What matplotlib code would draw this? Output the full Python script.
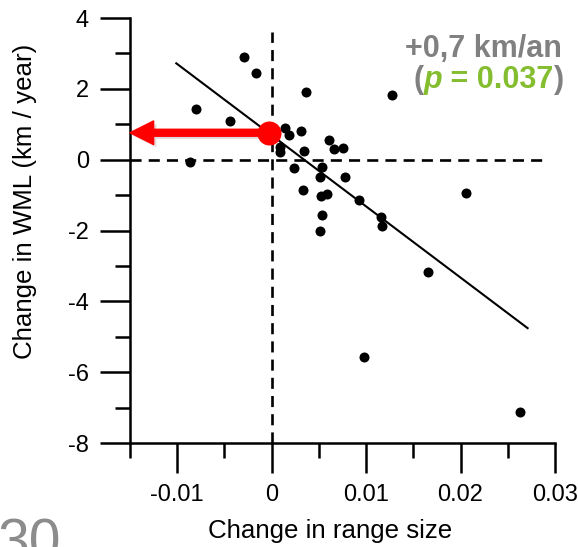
import matplotlib
matplotlib.use("Agg")
import matplotlib.pyplot as plt
import numpy as np
from matplotlib.patches import FancyArrowPatch, ArrowStyle
from matplotlib.ticker import FixedLocator, FixedFormatter
import matplotlib.patheffects as pe

plt.rcParams['font.family'] = ['Liberation Sans', 'DejaVu Sans']
plt.rcParams['axes.unicode_minus'] = False

# ---- data ----
range_change = [-0.0029, -0.0017, -0.0080, -0.0044, -0.0086,
                0.0036, 0.0127, 0.0014, 0.0018, 0.0031, 0.0009, 0.0009,
                0.0034, 0.0061, 0.0066, 0.0076, 0.0024, 0.0053, 0.0051,
                0.0078, 0.0033, 0.0052, 0.0059, 0.0093, 0.0053, 0.0116,
                0.0117, 0.0051, 0.0206, 0.0166, 0.0098, 0.0263]
wml_change = [2.90, 2.46, 1.42, 1.09, -0.07,
              1.91, 1.84, 0.90, 0.70, 0.81, 0.37, 0.23,
              0.25, 0.55, 0.30, 0.33, -0.23, -0.21, -0.48,
              -0.49, -0.86, -1.03, -0.98, -1.15, -1.55, -1.63,
              -1.87, -2.02, -0.94, -3.17, -5.56, -7.12]
fit_intercept = 0.69
fit_slope = -201.0
fit_x = [-0.0101, 0.0271]
highlight_x, highlight_y = -0.0003, 0.76

x_major = [-0.01, 0, 0.01, 0.02, 0.03]
x_major_labels = ['-0.01', '0', '0.01', '0.02', '0.03']
x_minor = [-0.015, -0.005, 0.005, 0.015, 0.025]
y_major = [-8, -6, -4, -2, 0, 2, 4]
y_major_labels = ['-8', '-6', '-4', '-2', '0', '2', '4']
y_minor = [-7, -5, -3, -1, 1, 3]

W, H = 578, 547
fig = plt.figure(figsize=(W / 100, H / 100), dpi=100)
L, R, T, B = 130, 555, 18, 443
ax = fig.add_axes([L / W, 1 - B / H, (R - L) / W, (B - T) / H])
ax.set_xlim(-0.015, 0.03)
ax.set_ylim(-8, 4)

for s in ['top', 'right']:
    ax.spines[s].set_visible(False)
for s in ['left', 'bottom']:
    ax.spines[s].set_linewidth(1.8)

ax.xaxis.set_major_locator(FixedLocator(x_major))
ax.xaxis.set_major_formatter(FixedFormatter(x_major_labels))
ax.xaxis.set_minor_locator(FixedLocator(x_minor))
ax.yaxis.set_major_locator(FixedLocator(y_major))
ax.yaxis.set_major_formatter(FixedFormatter(y_major_labels))
ax.yaxis.set_minor_locator(FixedLocator(y_minor))
ax.tick_params(which='major', direction='out', length=21.6, width=1.8,
               labelsize=17, pad=8)
ax.tick_params(which='minor', direction='out', length=10.8, width=1.8)
ax.tick_params(axis='y', which='major', pad=8)

# dashed reference lines
ax.plot([-0.015, 0.0287], [0, 0], color='black', lw=1.9,
        linestyle=(0, (4.2, 2.7)), zorder=1, clip_on=False)
ax.plot([0, 0], [-8, 3.6], color='black', lw=1.9,
        linestyle=(0, (4.2, 2.7)), zorder=1, clip_on=False)

# regression line
fx = np.array(fit_x)
ax.plot(fx, fit_intercept + fit_slope * fx, color='black', lw=1.5, zorder=2)

# points
ax.scatter(range_change, wml_change, s=52, color='black', zorder=3,
           linewidths=0, clip_on=False)

# red arrow and dot
arrow = FancyArrowPatch((highlight_x, highlight_y), (-0.015, highlight_y),
                        arrowstyle=ArrowStyle.Simple(head_length=17, head_width=17,
                                                     tail_width=5),
                        mutation_scale=1, color='#ff0000', shrinkA=0, shrinkB=0,
                        zorder=5, clip_on=False,
                        path_effects=[pe.SimplePatchShadow(offset=(2, -2), alpha=0.15),
                                      pe.Normal()])
ax.add_patch(arrow)
ax.scatter([highlight_x], [highlight_y], s=300, color='#ff0000', zorder=6,
           linewidths=0, clip_on=False)

# axis labels
fig.text(25 / W, 1 - 201.5 / H, 'Change in WML (km / year)', rotation=90,
         ha='center', va='center', fontsize=18.6)
fig.text(330 / W, 1 - 538 / H, 'Change in range size', ha='center',
         va='baseline', fontsize=18.6)

# annotation
gray = '#808080'
green = '#84bd2f'
fig.text(562 / W, 1 - 57 / H, '+0,7 km/an', ha='right', va='baseline',
         fontsize=22, fontweight='bold', color=gray)

pieces = [('(', gray, 'normal'), ('p', green, 'italic'),
          (' = 0.037', green, 'normal'), (')', gray, 'normal')]
renderer = fig.canvas.get_renderer()
texts = []
widths = []
for txt, col, sty in pieces:
    t = fig.text(0, 1 - 88 / H, txt, ha='left', va='baseline', fontsize=22,
                 fontweight='bold', color=col, fontstyle=sty)
    texts.append(t)
    widths.append(t.get_window_extent(renderer).width)
xpos = 564 - sum(widths)
for t, w in zip(texts, widths):
    t.set_x(xpos / W)
    xpos += w

# partial slide number
fig.text(-2 / W, 1 - 559 / H, '30', ha='left', va='baseline', fontsize=41,
         color='#8c8c8c')

fig.savefig('out.png', dpi=100)
